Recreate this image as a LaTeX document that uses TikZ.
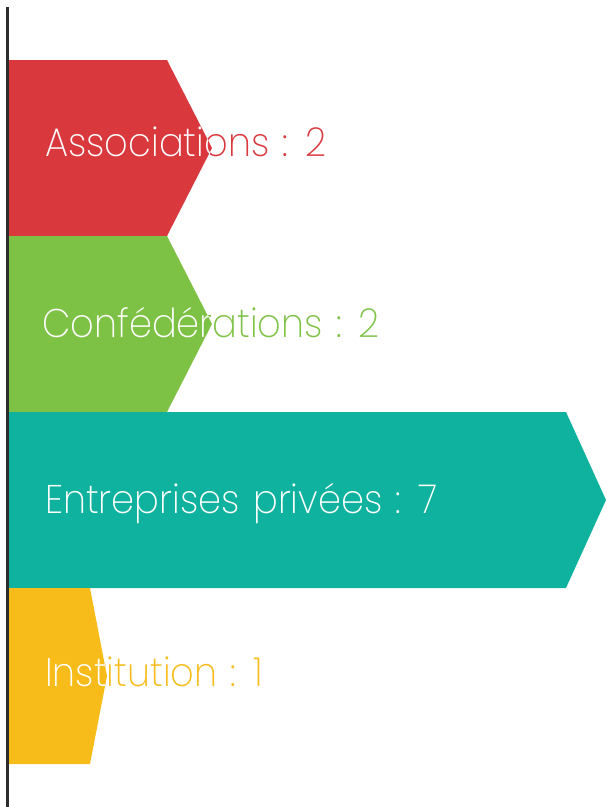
\documentclass[tikz,border=0pt]{standalone}
\usepackage{fontspec}
\newfontfamily\thinfont[FakeStretch=0.92,WordSpace=1.3]{Poppins ExtraLight}
\usepackage{tikz}
\usetikzlibrary{positioning}
\definecolor{assocred}{RGB}{217,56,61}
\definecolor{confgreen}{RGB}{126,194,69}
\definecolor{entteal}{RGB}{15,178,158}
\definecolor{instyellow}{RGB}{247,187,26}
\definecolor{axisgray}{RGB}{45,45,45}
\tikzstyle{bandtext}=[anchor=base west,inner sep=0pt,font=\thinfont\fontsize{40}{48}\selectfont]
\tikzstyle{axisline}=[line width=2.5pt,color=axisgray]

\begin{document}
\begin{tikzpicture}[x=1pt,y=-1pt]
\useasboundingbox (0,0) rectangle (606,807);
% Associations
\fill[assocred] (8.7,60)--(167,60)--(212,148)--(167,236)--(8.7,236)--cycle;
\node[bandtext,text=assocred](assoc)at (45,156){Associations : 2};
\begin{scope}
\clip (8.7,60)--(167,60)--(212,148)--(167,236)--(8.7,236)--cycle;
\node[bandtext,text=white](associn)at (45,156){Associations : 2};
\end{scope}
% Confederations
\fill[confgreen] (8.7,236)--(167,236)--(212,324)--(167,412)--(8.7,412)--cycle;
\node[bandtext,text=confgreen](conf)at (42,337){Confédérations : 2};
\begin{scope}
\clip (8.7,236)--(167,236)--(212,324)--(167,412)--(8.7,412)--cycle;
\node[bandtext,text=white](confin)at (42,337){Confédérations : 2};
\end{scope}
% Entreprises
\fill[entteal] (8.7,412)--(566,412)--(606,500)--(566,588)--(8.7,588)--cycle;
\node[bandtext,text=white](ent)at (45,513){Entreprises privées : 7};
% Institution
\fill[instyellow] (8.7,588)--(90,588)--(107,676)--(90,764)--(8.7,764)--cycle;
\node[bandtext,text=instyellow](inst)at (45,686){Institution : 1};
\begin{scope}
\clip (8.7,588)--(90,588)--(107,676)--(90,764)--(8.7,764)--cycle;
\node[bandtext,text=white](instin)at (45,686){Institution : 1};
\end{scope}
% axis
\coordinate (axtop) at (7.5,7);
\coordinate (axbot) at (7.5,807);
\draw[axisline] (axtop)--(axbot);
\end{tikzpicture}
\end{document}
